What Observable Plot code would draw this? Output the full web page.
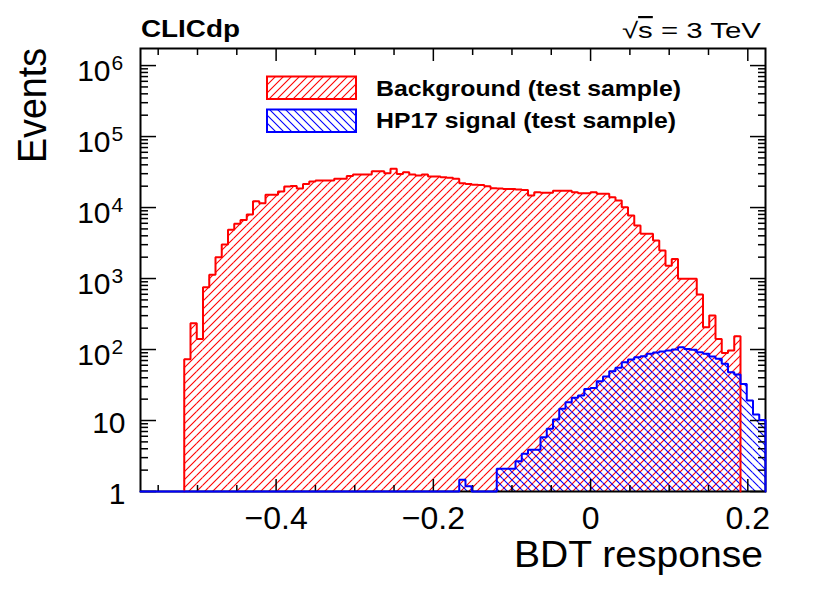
<!DOCTYPE html>
<html><head><meta charset="utf-8">
<script src="https://cdn.jsdelivr.net/npm/d3@7"></script>
<script src="https://cdn.jsdelivr.net/npm/@observablehq/plot@0.6"></script>
<style>body{margin:0;background:#fff;} svg{display:block}</style>
</head><body><div id="chart"></div>
<script>
// Histogram binning (100 bins over the axis range)
const xMin = -0.5725, xMax = 0.2225, nBins = 100;

// Background (test sample) bin contents, bins 0..99
const background = [
  0, 0, 0, 0, 0, 0, 0,
  73, 234, 141, 754, 1130, 1990, 3010, 4850, 5900, 6700,
  7960, 12300, 11500, 15200, 15200, 16800, 19800, 20200, 18500, 21500,
  23200, 24000, 24000, 24000, 25400, 25400, 27900, 29100, 29100, 29100,
  32500, 32500, 30400, 35100, 29800, 31500, 29100, 28200, 29100, 27300,
  27300, 26700, 26200, 25500, 22000, 21500, 20900, 20800, 20000, 18700,
  18500, 18300, 18300, 18000, 17700, 14800, 16400, 16100, 16100, 17300,
  17300, 17300, 16400, 15900, 15900, 16400, 15600, 15600, 14000, 12600,
  10100, 7700, 5570, 4260, 4260, 3430, 2480, 1520, 1890, 990,
  990, 990, 596, 206, 301, 141, 89, 97, 154,
  0, 0, 0, 0
];

// HP17 signal (test sample) bin contents, bins 0..99
const signal = [
  0, 0, 0, 0, 0, 0, 0, 0, 0, 0,
  0, 0, 0, 0, 0, 0, 0, 0, 0, 0,
  0, 0, 0, 0, 0, 0, 0, 0, 0, 0,
  0, 0, 0, 0, 0, 0, 0, 0, 0, 0,
  0, 0, 0, 0, 0, 0, 0, 0, 0, 0,
  0, 1.46, 1.19, 0, 0, 0, 0,
  2.09, 2.09, 2.09, 2.67, 3.40, 3.87, 3.87, 5.82, 7.63, 10.3,
  14.6, 18.1, 20.9, 22.5, 27.9, 28.8, 35.8, 41.7, 49.6, 55.2,
  66.3, 72.3, 78, 80.5, 86.9, 90.7, 93.7, 96.8, 100, 108,
  102, 99, 91.6, 86.9, 79.6, 73.9, 62.8, 47.9, 44.5, 32.8,
  19.1, 12.2, 10.2
];

// Axis ticks and labels
const xMajor = [-0.4, -0.2, 0, 0.2];
const xMinor = [-0.55, -0.5, -0.45, -0.35, -0.3, -0.25, -0.15, -0.1, -0.05, 0.05, 0.1, 0.15];
const xTickLabels = ["\u22120.4", "\u22120.2", "0", "0.2"];
const yMajor = [1, 10, 100, 1000, 10000, 100000, 1000000];
const yMinorMult = [2, 3, 4, 5, 6, 7, 8, 9];
const yMinor = yMajor.slice(0, 6).flatMap(d => yMinorMult.map(m => d * m));

const legendLabels = ["Background (test sample)", "HP17 signal (test sample)"];

const binW = (xMax - xMin) / nBins;
function toBins(arr) {
  return arr.map((v, i) => ({x1: xMin + i * binW, x2: xMin + (i + 1) * binW, v}));
}
function outline(arr, trimZeros) {
  let lo = 0, hi = arr.length - 1;
  if (trimZeros) {
    while (lo < hi && arr[lo] <= 0) lo++;
    while (hi > lo && arr[hi] <= 0) hi--;
  }
  const pts = [];
  pts.push({x: xMin + lo * binW, y: 1});
  for (let i = lo; i <= hi; i++) {
    const v = Math.max(arr[i], 1);
    pts.push({x: xMin + i * binW, y: v});
    pts.push({x: xMin + (i + 1) * binW, y: v});
  }
  pts.push({x: xMin + (hi + 1) * binW, y: 1});
  return pts;
}
const bgBins = toBins(background).filter(d => d.v > 1);
const sigBins = toBins(signal).filter(d => d.v > 1);

const font = "Liberation Sans, Arial, Helvetica, sans-serif";

const chart = Plot.plot({
  width: 830, height: 599,
  marginLeft: 140, marginRight: 65, marginTop: 48, marginBottom: 108,
  style: {fontFamily: font, background: "white", color: "black"},
  x: {domain: [xMin, xMax], label: null},
  y: {type: "log", domain: [1, 1.74e6], label: null},
  marks: [
    Plot.rectY(bgBins, {x1: "x1", x2: "x2", y1: 1, y2: "v", fill: "url(#bgHatch)"}),
    Plot.rectY(sigBins, {x1: "x1", x2: "x2", y1: 1, y2: "v", fill: "url(#sigHatch)"}),
    Plot.frame({stroke: "black", strokeWidth: 2}),
    Plot.axisX({anchor: "bottom", ticks: xMajor, tickSize: -12, text: null, label: null, strokeWidth: 1.5}),
    Plot.axisX({anchor: "bottom", ticks: xMinor, tickSize: -6, text: null, label: null, strokeWidth: 1.5}),
    Plot.axisX({anchor: "top", ticks: xMajor, tickSize: -12, text: null, label: null, strokeWidth: 1.5}),
    Plot.axisX({anchor: "top", ticks: xMinor, tickSize: -6, text: null, label: null, strokeWidth: 1.5}),
    Plot.axisY({anchor: "left", ticks: yMajor, tickSize: -16, text: null, label: null, strokeWidth: 1.5}),
    Plot.axisY({anchor: "left", ticks: yMinor, tickSize: -8, text: null, label: null, strokeWidth: 1.5}),
    Plot.axisY({anchor: "right", ticks: yMajor, tickSize: -16, text: null, label: null, strokeWidth: 1.5}),
    Plot.axisY({anchor: "right", ticks: yMinor, tickSize: -8, text: null, label: null, strokeWidth: 1.5}),
    Plot.line(outline(background, true), {x: "x", y: "y", stroke: "#ff0000", strokeWidth: 2, strokeLinejoin: "miter"}),
    Plot.line(outline(signal, false), {x: "x", y: "y", stroke: "#0000ff", strokeWidth: 2, strokeLinejoin: "miter"}),
    Plot.text(xMajor, {x: d => d, frameAnchor: "bottom", dy: 37, text: (d, i) => xTickLabels[i], fontSize: 32, lineAnchor: "bottom", textAnchor: "middle", fill: "black"}),
    Plot.text(yMajor.filter(v => v < 100), {y: d => d, frameAnchor: "left", dx: -15, dy: 12, text: d => String(d), textAnchor: "end", lineAnchor: "bottom", fontSize: 30, fill: "black"}),
    Plot.text(yMajor.filter(v => v >= 100), {y: d => d, frameAnchor: "left", dx: -30, dy: 15.5, text: () => "10", textAnchor: "end", lineAnchor: "bottom", fontSize: 30, fill: "black"}),
    Plot.text(yMajor.filter(v => v >= 100), {y: d => d, frameAnchor: "left", dx: -29, dy: 4.5, text: d => String(Math.round(Math.log10(d))), textAnchor: "start", lineAnchor: "bottom", fontSize: 21, fill: "black"})
  ]
});

// Hatch patterns built through the DOM API (SVG namespace)
const svg = d3.select(chart);
const defs = svg.insert("defs", ":first-child");
function hatch(id, d, col) {
  const p = defs.append("pattern").attr("id", id).attr("patternUnits", "userSpaceOnUse")
    .attr("width", 8).attr("height", 8);
  p.append("path").attr("d", d).attr("fill", "none").attr("stroke", col).attr("stroke-width", 1.1);
}
hatch("bgHatch", "M0,8 L8,0 M-2,2 L2,-2 M6,10 L10,6", "#ff0000");
hatch("sigHatch", "M0,0 L8,8 M-2,6 L2,10 M6,-2 L10,2", "#0000ff");

const ann = svg.append("g").attr("font-family", font).attr("fill", "black").attr("text-anchor", "start");
ann.append("text").attr("x", 141).attr("y", 37).attr("font-size", 23).attr("font-weight", "bold")
  .attr("text-anchor", "start").attr("textLength", 99).attr("lengthAdjust", "spacingAndGlyphs").text("CLICdp");
const rs = ann.append("text").attr("x", 622).attr("y", 38).attr("font-size", 22).attr("text-anchor", "start")
  .attr("textLength", 139).attr("lengthAdjust", "spacingAndGlyphs");
rs.append("tspan").text("\u221A");
rs.append("tspan").style("text-decoration", "overline").text("s");
rs.append("tspan").text(" = 3 TeV");
ann.append("text").attr("transform", "translate(45.5,48) rotate(-90)").attr("text-anchor", "end")
  .attr("font-size", 40).attr("textLength", 115).attr("lengthAdjust", "spacingAndGlyphs").text("Events");
ann.append("text").attr("x", 763).attr("y", 567).attr("text-anchor", "end").attr("font-size", 36)
  .attr("textLength", 249).attr("lengthAdjust", "spacingAndGlyphs").text("BDT response");

// Legend
const lg = svg.append("g").attr("font-family", font).attr("text-anchor", "start");
const legendStyles = [
  {fill: "url(#bgHatch)", stroke: "#ff0000", y: 76.5, ty: 95.5, tl: 305},
  {fill: "url(#sigHatch)", stroke: "#0000ff", y: 109.5, ty: 128, tl: 300}
];
legendLabels.forEach((label, i) => {
  const s = legendStyles[i];
  lg.append("rect").attr("x", 267).attr("y", s.y).attr("width", 89).attr("height", 22.5)
    .attr("fill", s.fill).attr("stroke", s.stroke).attr("stroke-width", 2);
  lg.append("text").attr("x", 376).attr("y", s.ty).attr("font-size", 22).attr("font-weight", "bold")
    .attr("fill", "black").attr("text-anchor", "start")
    .attr("textLength", s.tl).attr("lengthAdjust", "spacingAndGlyphs").text(label);
});

document.getElementById("chart").appendChild(chart);
</script>
</body></html>
